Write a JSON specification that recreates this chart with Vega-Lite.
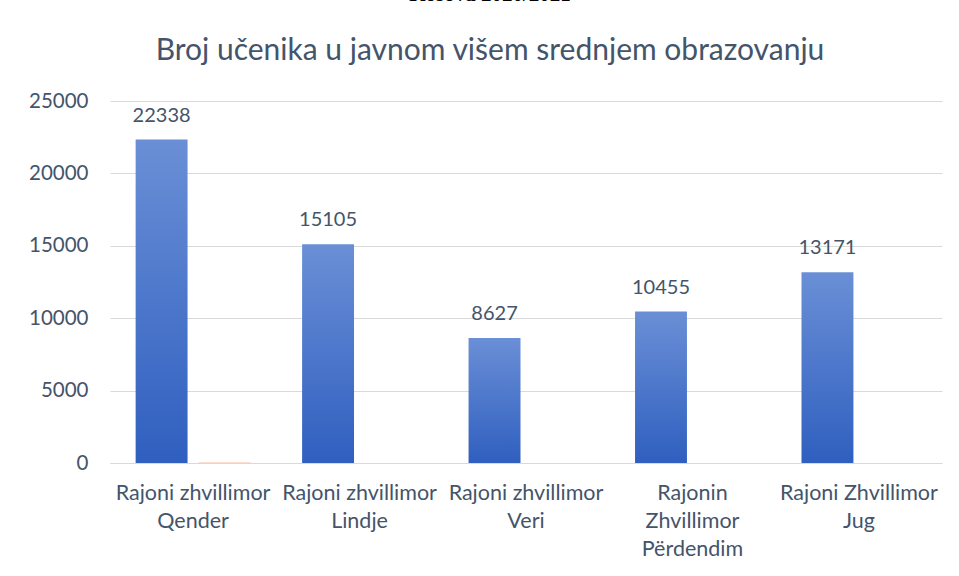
{
  "$schema": "https://vega.github.io/schema/vega-lite/v6.json",
  "autosize": "none",
  "width": 832,
  "height": 362,
  "padding": {"left": 110, "top": 101, "right": 17, "bottom": 113},
  "background": "white",
  "title": {
    "text": "Kosova 2020/2021",
    "subtitle": "Broj učenika u javnom višem srednjem obrazovanju",
    "font": "Liberation Serif",
    "fontSize": 21,
    "fontWeight": "bold",
    "color": "#000000",
    "subtitleFont": "Lato",
    "subtitleFontSize": 30,
    "subtitleColor": "#44546a",
    "subtitlePadding": 31,
    "anchor": "middle",
    "dx": -36,
    "offset": 25
  },
  "data": {
    "values": [
      {"region": "Rajoni zhvillimor Qender", "series": "A", "value": 22338},
      {"region": "Rajoni zhvillimor Qender", "series": "B", "value": 40},
      {"region": "Rajoni zhvillimor Lindje", "series": "A", "value": 15105},
      {"region": "Rajoni zhvillimor Veri", "series": "A", "value": 8627},
      {"region": "Rajonin Zhvillimor Përdendim", "series": "A", "value": 10455},
      {"region": "Rajoni Zhvillimor Jug", "series": "A", "value": 13171}
    ]
  },
  "encoding": {
    "x": {
      "field": "region",
      "type": "nominal",
      "sort": null,
      "scale": {"paddingInner": 0.31, "paddingOuter": 0.154},
      "axis": {
        "title": null,
        "labelAngle": 0,
        "ticks": false,
        "domainColor": "#d9d9d9",
        "domainWidth": 1,
        "labelFont": "Lato",
        "labelFontSize": 21.5,
        "labelColor": "#44546a",
        "labelPadding": 19,
        "labelBaseline": "top",
        "labelLineHeight": 28,
        "labelLimit": 0,
        "labelExpr": "datum.label == 'Rajonin Zhvillimor Përdendim' ? ['Rajonin', 'Zhvillimor', 'Përdendim'] : [slice(datum.label, 0, 17), slice(datum.label, 18)]"
      }
    },
    "xOffset": {
      "field": "series",
      "type": "nominal",
      "scale": {"domain": ["A", "B"], "paddingInner": 0.175}
    },
    "y": {
      "field": "value",
      "type": "quantitative",
      "scale": {"domain": [0, 25000], "nice": false},
      "axis": {
        "title": null,
        "values": [0, 5000, 10000, 15000, 20000, 25000],
        "format": "d",
        "domain": false,
        "ticks": false,
        "gridColor": "#d9d9d9",
        "gridWidth": 1,
        "labelFont": "Lato",
        "labelFontSize": 20.5,
        "labelColor": "#44546a",
        "labelPadding": 22
      }
    }
  },
  "layer": [
    {
      "transform": [{"filter": "datum.series == 'A'"}],
      "mark": {
        "type": "bar",
        "color": {
          "gradient": "linear",
          "x1": 0, "y1": 0, "x2": 0, "y2": 1,
          "stops": [
            {"offset": 0, "color": "#6a8fd6"},
            {"offset": 1, "color": "#2f5fbf"}
          ]
        }
      }
    },
    {
      "transform": [{"filter": "datum.series == 'B'"}],
      "mark": {"type": "bar", "color": "#f4b9a0"}
    },
    {
      "transform": [{"filter": "datum.series == 'A'"}],
      "mark": {
        "type": "text",
        "font": "Lato",
        "fontSize": 20,
        "color": "#44546a",
        "baseline": "alphabetic",
        "dy": -18
      },
      "encoding": {"text": {"field": "value", "type": "quantitative", "format": "d"}}
    }
  ],
  "config": {"view": {"stroke": null}}
}
